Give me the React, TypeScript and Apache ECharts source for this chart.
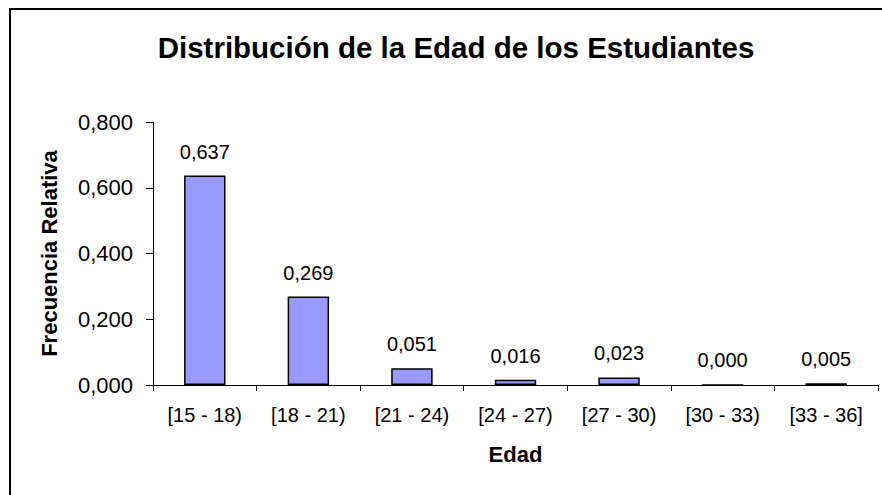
import React, { useEffect, useRef } from "react";
import * as echarts from "echarts";

const categories = ["[15 - 18)", "[18 - 21)", "[21 - 24)", "[24 - 27)", "[27 - 30)", "[30 - 33)", "[33 - 36]"];
const relativeFrequency = [0.637, 0.269, 0.051, 0.016, 0.023, 0.0, 0.005];
const titleText = "Distribución de la Edad de los Estudiantes";
const xName = "Edad";
const yName = "Frecuencia Relativa";

const FONT = "'Liberation Sans', Arial, sans-serif";
const fmt = (v: number) => v.toFixed(3).replace(".", ",");

export default function App() {
  const ref = useRef<HTMLDivElement>(null);
  useEffect(() => {
    if (!ref.current) return;
    const chart = echarts.init(ref.current, undefined, { renderer: "svg" });
    chart.setOption({
      animation: false,
      backgroundColor: "#ffffff",
      textStyle: { fontFamily: FONT },
      title: {
        text: titleText,
        left: 451,
        textAlign: "center",
        top: 27,
        textStyle: { fontFamily: FONT, fontSize: 29.5, fontWeight: "bold", color: "#000" },
      },
      graphic: [
        {
          type: "rect",
          shape: { x: 10, y: 9, width: 900, height: 520 },
          style: { fill: "none", stroke: "#000", lineWidth: 2 },
          silent: true,
        },
      ],
      grid: { left: 153, right: 4, top: 122, bottom: 110, containLabel: false },
      xAxis: {
        type: "category",
        data: categories,
        name: xName,
        nameLocation: "middle",
        nameGap: 58,
        nameTextStyle: { fontFamily: FONT, fontSize: 22, fontWeight: "bold", color: "#000" },
        axisLine: { show: true, lineStyle: { color: "#000", width: 1 } },
        axisTick: { show: true, alignWithLabel: false, length: 6, lineStyle: { color: "#000" } },
        axisLabel: { fontFamily: FONT, fontSize: 20, color: "#000", margin: 20, interval: 0 },
        splitLine: { show: false },
      },
      yAxis: {
        type: "value",
        min: 0,
        max: 0.8,
        interval: 0.2,
        name: yName,
        nameLocation: "middle",
        nameGap: 93,
        nameTextStyle: { fontFamily: FONT, fontSize: 22, fontWeight: "bold", color: "#000" },
        axisLine: { show: true, lineStyle: { color: "#000", width: 1 } },
        axisTick: { show: true, length: 7, inside: false, lineStyle: { color: "#000" } },
        axisLabel: { fontFamily: FONT, fontSize: 22, color: "#000", margin: 20, formatter: (v: number) => fmt(v) },
        splitLine: { show: false },
      },
      series: [
        {
          type: "bar",
          data: relativeFrequency,
          barWidth: "40%",
          itemStyle: { color: "#9999FF", borderColor: "#000", borderWidth: 1.5 },
          label: {
            show: true,
            position: "top",
            distance: 14,
            fontFamily: FONT,
            fontSize: 20,
            color: "#000",
            formatter: (p: any) => fmt(p.value),
          },
        },
      ],
    });
    return () => chart.dispose();
  }, []);
  return <div ref={ref} style={{ position: "fixed", left: 0, top: 0, width: 882, height: 495 }} />;
}
